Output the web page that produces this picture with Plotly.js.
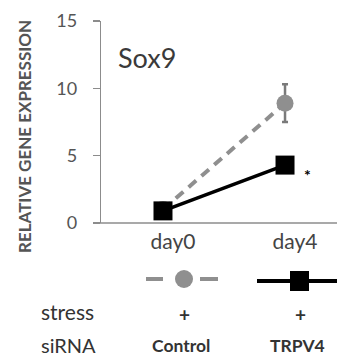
<!DOCTYPE html>
<html>
<head>
<meta charset="utf-8">
<script src="https://cdn.plot.ly/plotly-3.0.1.min.js"></script>
<style>html,body{margin:0;padding:0;background:#fff;}#chart{width:337px;height:357px;}</style>
</head>
<body>
<div id="chart"></div>
<script>
var categories = ["day0", "day4"];
var controlValues = [1.0, 8.9];
var controlErrors = [0, 1.4];
var trpv4Values = [0.9, 4.3];
var yTicks = [0, 5, 10, 15];
var geneName = "Sox9";
var yTitle = "RELATIVE GENE EXPRESSION";
var stressLabels = ["+", "+"];
var sirnaLabels = ["Control", "TRPV4"];

var L = 101, T = 21, W = 236, H = 202;
function px(x){ return (x - L) / W; }
function py(y){ return (T + H - y) / H; }

var FONT = "Lato, 'Open Sans', sans-serif";

var traces = [
  {
    x: [0, 1], y: controlValues, type: "scatter", mode: "lines+markers",
    line: {color: "#8f8f8f", width: 4, dash: "10px,7px"},
    marker: {symbol: "circle", size: 17, color: "#8f8f8f"},
    error_y: {type: "data", array: controlErrors, visible: true, color: "#7a7a7a", thickness: 2.5, width: 3},
    hoverinfo: "skip", showlegend: false
  },
  {
    x: [0, 1], y: trpv4Values, type: "scatter", mode: "lines+markers",
    line: {color: "#000", width: 3.5},
    marker: {symbol: "square", size: 19, color: "#000"},
    hoverinfo: "skip", showlegend: false
  }
];

var annotations = [
  {xref: "paper", yref: "paper", x: px(24), y: py(137), xanchor: "center", yanchor: "middle", textangle: -90,
   text: "<b>" + yTitle + "</b>", showarrow: false, font: {family: FONT, size: 17, color: "#555"}},
  {xref: "paper", yref: "paper", x: px(116), y: py(57), xanchor: "left", yanchor: "middle",
   text: geneName, showarrow: false, font: {family: FONT, size: 27, color: "#3a3a3a"}},
  {xref: "x", yref: "y", x: 1, y: trpv4Values[1], xshift: 22, yshift: -9, text: "<b>*</b>", showarrow: false,
   font: {family: FONT, size: 16, color: "#000"}},
  {xref: "paper", yref: "paper", x: px(39), y: py(311), xanchor: "left", yanchor: "middle",
   text: "stress", showarrow: false, font: {family: FONT, size: 21, color: "#333"}},
  {xref: "paper", yref: "paper", x: px(39), y: py(345), xanchor: "left", yanchor: "middle",
   text: "siRNA", showarrow: false, font: {family: FONT, size: 20, color: "#333"}}
];
var colX = [184, 300];
for (var i = 0; i < 2; i++) {
  annotations.push({xref: "paper", yref: "paper", x: px(colX[i]), y: py(314), xanchor: "center", yanchor: "middle",
    text: "<b>" + stressLabels[i] + "</b>", showarrow: false, font: {family: FONT, size: 19, color: "#333"}});
  annotations.push({xref: "paper", yref: "paper", x: px(colX[i] - 3), y: py(345), xanchor: "center", yanchor: "middle",
    text: "<b>" + sirnaLabels[i] + "</b>", showarrow: false, font: {family: FONT, size: 17.5, color: "#333"}});
}

var shapes = [
  {type: "line", xref: "paper", yref: "paper", x0: px(93), x1: px(337), y0: 0, y1: 0, line: {color: "#8c8c8c", width: 1.3}},
  {type: "line", xref: "paper", yref: "paper", x0: px(146), x1: px(163), y0: py(279), y1: py(279), line: {color: "#8f8f8f", width: 4}},
  {type: "line", xref: "paper", yref: "paper", x0: px(200), x1: px(218), y0: py(279), y1: py(279), line: {color: "#8f8f8f", width: 4}},
  {type: "circle", xref: "paper", yref: "paper", x0: px(175), x1: px(193), y0: py(270), y1: py(288), fillcolor: "#8f8f8f", line: {width: 0}},
  {type: "line", xref: "paper", yref: "paper", x0: px(257), x1: px(337), y0: py(281), y1: py(281), line: {color: "#000", width: 4}},
  {type: "rect", xref: "paper", yref: "paper", x0: px(290), x1: px(309), y0: py(271), y1: py(291), fillcolor: "#000", line: {width: 0}}
];

var layout = {
  width: 337, height: 357,
  margin: {l: L, r: 0, t: T, b: 357 - T - H, pad: 0},
  paper_bgcolor: "#fff", plot_bgcolor: "#fff",
  showlegend: false,
  xaxis: {
    range: [-0.508, 1.426], tickvals: [0, 1], ticktext: categories,
    showgrid: false, zeroline: false, showline: false, ticks: "",
    tickfont: {family: FONT, size: 21, color: "#444"},
    ticklabelstandoff: 4, ticklabelshift: 10, fixedrange: true
  },
  yaxis: {
    range: [0, 15], tickvals: yTicks, ticktext: yTicks.map(String),
    showgrid: false, zeroline: false, showline: true, linecolor: "#8c8c8c", linewidth: 1.3,
    ticks: "outside", ticklen: 7, tickwidth: 1.3, tickcolor: "#8c8c8c",
    tickfont: {family: FONT, size: 18, color: "#555"},
    ticklabelstandoff: 12,
    fixedrange: true
  },
  annotations: annotations,
  shapes: shapes
};

Plotly.newPlot("chart", traces, layout, {displayModeBar: false, staticPlot: true});
</script>
</body>
</html>
